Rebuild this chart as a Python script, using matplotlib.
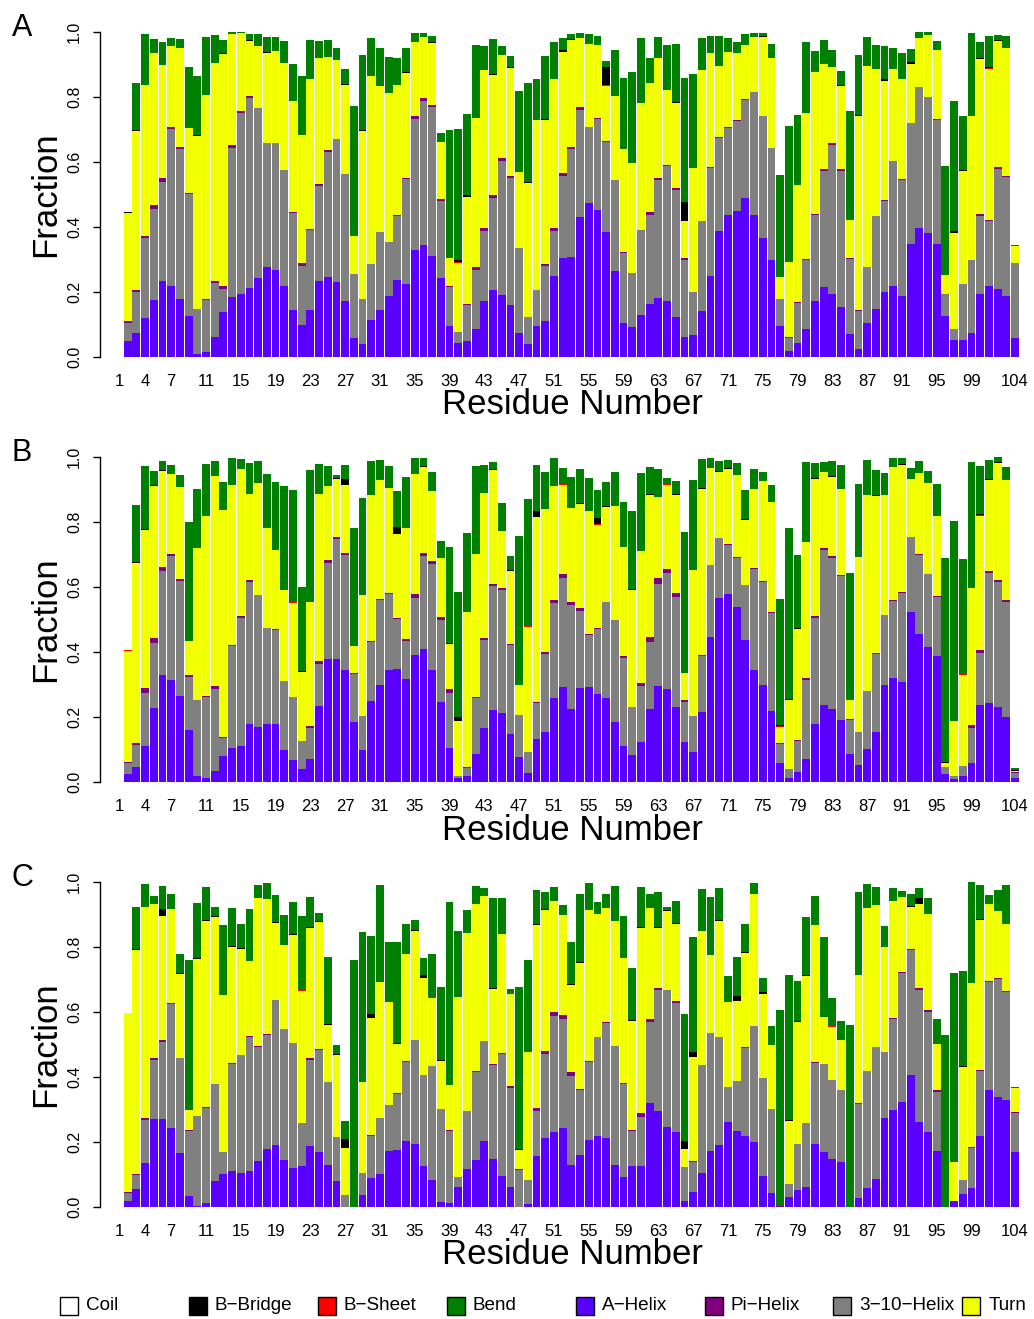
import numpy as np
import matplotlib
matplotlib.use("Agg")
import matplotlib.pyplot as plt
from matplotlib.patches import Rectangle

plt.rcParams["font.family"] = ["Liberation Sans", "DejaVu Sans"]

residues = np.arange(1, 105)
tick_residues = [1, 4, 7, 11, 15, 19, 23, 27, 31, 35, 39, 43, 47, 51, 55,
                 59, 63, 67, 71, 75, 79, 83, 87, 91, 95, 99, 104]

# ---------------- panel A ----------------
HELIX_A = [
    0, .05, .073, .119, .174, .235, .217, .177, .125, .008,
    .014, .063, .137, .186, .195, .211, .242, .278, .269, .22,
    .146, .097, .146, .235, .245, .232, .171, .06, .039, .113,
    .146, .189, .238, .226, .328, .346, .312, .242, .094, .042,
    .048, .085, .171, .205, .192, .159, .073, .039, .094, .11,
    .248, .306, .309, .432, .475, .453, .386, .266, .106, .091,
    .128, .162, .183, .171, .122, .063, .067, .143, .248, .389,
    .438, .45, .49, .438, .367, .297, .094, .02, .042, .085,
    .171, .214, .195, .153, .07, .024, .106, .149, .199, .217,
    .189, .349, .398, .383, .349, .125, .051, .051, .073, .195,
    .217, .208, .189, .057]
TEN_A = [
    0, .055, .126, .246, .282, .304, .485, .464, .378, .141,
    .16, .166, .071, .458, .556, .586, .525, .381, .39, .356,
    .298, .184, .246, .292, .387, .439, .393, .194, .138, .172,
    .24, .166, .197, .323, .405, .442, .458, .239, .12, .034,
    .113, .184, .218, .285, .412, .393, .261, .083, .111, .171,
    .141, .252, .332, .328, .233, .28, .276, .28, .215, .166,
    .264, .276, .363, .418, .393, .237, .132, .274, .334, .285,
    .267, .276, .301, .378, .375, .347, .083, .04, .123, .212,
    .267, .359, .458, .42, .233, .119, .172, .286, .282, .387,
    .357, .372, .433, .417, .381, .07, .034, .175, .224, .24,
    .2, .371, .366, .231]
PI_A = [
    0, .007, .006, .007, .013, .013, .006, .006, .003, 0,
    .003, .006, .009, .009, .006, .006, 0, 0, 0, 0,
    .003, .007, .003, .006, .006, 0, 0, 0, .003, 0,
    0, 0, .003, .003, .009, .009, .006, .006, .006, 0,
    .003, .009, .009, .009, .009, .006, 0, 0, 0, .006,
    .009, .009, .006, .01, 0, .003, .003, 0, .003, .003,
    0, .009, .006, .003, .006, .006, 0, 0, .003, .003,
    .003, .003, .003, 0, 0, 0, .003, .003, .003, .006,
    .003, .006, .006, .006, .003, .003, 0, 0, .003, 0,
    .003, 0, 0, 0, .003, 0, 0, 0, .003, .006,
    .006, .006, .003, 0]
TURN_A = [
    0, .33, .491, .465, .466, .347, .249, .304, .199, .532,
    .63, .67, .715, .341, .24, .169, .19, .276, .283, .329,
    .341, .396, .461, .387, .285, .243, .273, .117, .516, .58,
    .448, .458, .399, .322, .227, .188, .19, .175, .086, .212,
    .329, .458, .485, .369, .316, .331, .236, .414, .525, .443,
    .458, .372, .328, .211, .255, .224, .169, .257, .317, .338,
    .39, .396, .368, .23, .261, .114, .383, .466, .351, .219,
    .232, .207, .166, .169, .243, .276, .065, .228, .362, .448,
    .436, .323, .234, .255, .117, .596, .618, .451, .366, .282,
    .307, .181, .151, .191, .212, .056, .298, .347, .442, .476,
    .463, .387, .393, .055]
BEND_A = [
    0, 0, .144, .157, .043, .07, .025, .027, .188, .181,
    .178, .086, .04, .006, .003, .019, .037, .046, .043, .067,
    .114, .181, .119, .052, .052, .037, .046, .402, .23, .117,
    .117, .11, .083, .075, .028, .012, .019, .025, .393, .405,
    .249, .224, .074, .108, .028, .033, .249, .304, .126, .193,
    .113, .037, .015, .016, .031, .028, .018, .141, .218, .279,
    .2, .077, .065, .138, .178, .381, .289, .099, .052, .092,
    .042, .033, .034, .012, .009, .043, .316, .42, .215, .218,
    .065, .073, .052, .043, .334, .184, .089, .074, .101, .065,
    .08, .04, .018, .009, .027, .338, .399, .166, .255, .049,
    .096, .016, .037, .003]
SHEET_A = {38: .003, 40: .003, 57: .003, 101: .003}
BRIDGE_A = {2: .003, 3: .003, 10: .003, 13: .003, 16: .003, 18: .004, 27: .003,
            29: .003, 34: .003, 37: .003, 40: .006, 41: .006, 44: .003, 46: .004,
            48: .003, 50: .003, 52: .006, 53: .004, 57: .056, 65: .003, 66: .058,
            75: .003, 84: .003, 86: .003, 89: .006, 92: .006, 97: .006, 98: .003,
            100: .003, 101: .003, 102: .003}

# ---------------- panel B ----------------
HELIX_B = [
    0, .024, .045, .11, .229, .328, .315, .266, .159, .02,
    .011, .033, .079, .106, .11, .177, .168, .177, .177, .097,
    .067, .039, .07, .235, .377, .377, .346, .186, .097, .248,
    .3, .346, .349, .318, .392, .41, .346, .245, .106, .011,
    .02, .085, .165, .223, .211, .149, .076, .027, .131, .153,
    .257, .291, .226, .288, .291, .272, .257, .186, .11, .082,
    .122, .226, .294, .285, .232, .122, .091, .214, .447, .567,
    .579, .539, .438, .346, .297, .217, .057, .011, .03, .07,
    .18, .238, .226, .192, .085, .051, .103, .153, .297, .321,
    .309, .524, .456, .414, .389, .024, .008, .017, .06, .238,
    .242, .232, .199, .011]
TEN_B = [
    0, .033, .068, .165, .2, .322, .381, .353, .165, .231,
    .252, .252, .055, .311, .396, .439, .408, .298, .292, .215,
    .196, .086, .095, .129, .298, .371, .353, .145, .105, .184,
    .261, .233, .154, .117, .175, .286, .325, .255, .169, .006,
    .022, .175, .273, .381, .381, .274, .129, .064, .111, .242,
    .295, .337, .32, .239, .162, .2, .298, .314, .273, .15,
    .172, .206, .316, .359, .338, .123, .111, .175, .221, .184,
    .151, .151, .169, .31, .319, .304, .059, .028, .095, .245,
    .326, .476, .464, .443, .107, .102, .178, .242, .218, .237,
    .273, .23, .243, .227, .181, .021, .009, .031, .105, .16,
    .402, .384, .356, .016]
PI_B = [
    0, .006, .006, .013, .015, .012, .006, .006, .004, 0,
    .003, .009, .006, .006, .006, .006, 0, 0, .003, 0,
    0, 0, .006, .007, .009, .006, .006, .003, 0, .003,
    .003, .003, .003, .006, .012, .009, .01, .009, .01, .003,
    .003, .003, .006, .006, .006, .003, 0, 0, .003, .006,
    .009, .013, .009, .009, .003, .003, 0, 0, .006, 0,
    .012, .015, .018, .012, .012, .006, 0, .003, 0, 0,
    .003, .003, 0, .003, .003, .003, .003, 0, .003, .006,
    .006, .007, .006, .003, .003, 0, 0, .003, 0, .003,
    .003, 0, .003, 0, .003, 0, 0, 0, .009, .009,
    .006, .006, .006, .003]
TURN_B = [
    0, .341, .556, .488, .467, .295, .246, .283, .107, .47,
    .553, .648, .697, .491, .451, .264, .344, .307, .242, .28,
    .289, .212, .384, .515, .227, .178, .209, .086, .374, .448,
    .365, .323, .258, .341, .369, .264, .215, .181, .141, .169,
    .479, .439, .445, .35, .175, .224, .092, .387, .571, .439,
    .35, .273, .288, .32, .378, .316, .291, .35, .335, .36,
    .405, .436, .249, .258, .301, .083, .451, .51, .298, .203,
    .23, .252, .2, .243, .307, .338, .049, .212, .344, .418,
    .42, .233, .243, .264, .056, .54, .602, .482, .368, .408,
    .39, .178, .249, .279, .246, .015, .172, .28, .424, .412,
    .279, .36, .368, .003]
BEND_B = [
    0, 0, .175, .193, .043, .028, .028, .037, .365, .181,
    .16, .046, .086, .083, .031, .096, .068, .166, .209, .319,
    .344, .258, .405, .093, .062, .01, .043, .359, .298, .105,
    .062, .067, .111, .157, .049, .025, .058, .049, .295, .386,
    .243, .267, .086, .022, .086, .043, .46, .39, .141, .114,
    .086, .049, .096, .104, .102, .086, .073, .104, .138, .239,
    .24, .083, .086, .019, .04, .436, .273, .089, .031, .031,
    .025, .037, .089, .062, .028, .052, .39, .528, .224, .246,
    .046, .031, .046, .074, .393, .224, .108, .077, .068, .028,
    .018, .034, .037, .036, .098, .627, .614, .356, .387, .147,
    .059, .015, .04, .006]
SHEET_B = {2: .003, 21: .003, 22: .003, 28: .003, 38: .003, 42: .003, 48: .003,
           52: .003, 56: .003, 64: .003, 67: .003, 77: .003, 98: .003, 100: .003}
BRIDGE_B = {3: .003, 4: .003, 5: .003, 6: .003, 22: .003, 26: .003, 27: .018,
            33: .021, 36: .003, 39: .003, 40: .01, 44: .003, 46: .003, 49: .018,
            54: .003, 56: .019, 57: .004, 60: .003, 62: .003, 65: .003, 68: .003,
            70: .003, 71: .003, 73: .003, 77: .003, 78: .003, 79: .003, 81: .004,
            83: .003, 88: .003, 91: .004, 96: .003, 100: .003, 101: .003,
            102: .003, 104: .003}

# ---------------- panel C ----------------
HELIX_C = [
    0, .017, .054, .134, .272, .272, .242, .165, .033, .002,
    .011, .079, .103, .11, .106, .11, .143, .18, .192, .146,
    .119, .125, .189, .168, .128, .079, 0, 0, .036, .088,
    .103, .171, .174, .202, .195, .125, .082, .014, .011, .063,
    .116, .146, .202, .149, .094, .063, 0, .008, .156, .211,
    .232, .242, .128, .159, .205, .217, .211, .128, .091, .125,
    .125, .321, .294, .245, .232, .017, .045, .106, .171, .192,
    .263, .235, .22, .199, .094, .042, 0, .03, .051, .063,
    .195, .168, .149, .137, 0, .027, .057, .085, .275, .297,
    .324, .407, .263, .232, .171, 0, .017, .039, .057, .217,
    .361, .34, .328, .168]
TEN_C = [
    0, .025, .043, .135, .181, .237, .383, .295, .202, .279,
    .295, .301, .065, .331, .363, .414, .35, .35, .446, .403,
    .387, .132, .264, .316, .258, .135, .036, 0, .07, .132,
    .172, .144, .175, .245, .32, .282, .353, .289, .224, .028,
    .178, .268, .31, .289, .378, .304, .113, .074, .138, .261,
    .357, .337, .276, .202, .242, .307, .356, .368, .289, .11,
    .153, .249, .374, .423, .396, .105, .095, .332, .365, .332,
    .107, .154, .27, .359, .304, .261, 0, .04, .144, .197,
    .249, .273, .243, .224, 0, .291, .363, .408, .203, .282,
    .397, .384, .405, .369, .184, 0, .003, .043, .126, .2,
    .332, .362, .334, .12]
PI_C = [
    0, .003, .006, .006, .007, .006, .003, 0, .003, 0,
    .003, 0, 0, .003, 0, .003, .003, .003, 0, 0,
    0, 0, .004, .003, 0, 0, 0, 0, 0, .003,
    0, 0, .003, .003, 0, 0, 0, 0, .003, 0,
    0, .003, 0, .003, .003, .004, .003, 0, .012, .009,
    .012, .013, .01, .003, .003, 0, .003, 0, .003, .003,
    .01, .009, .007, 0, .007, 0, .003, 0, 0, 0,
    0, 0, .003, 0, 0, 0, .003, 0, 0, 0,
    .003, 0, 0, 0, 0, .003, 0, 0, 0, .003,
    .003, .003, .007, .006, .006, 0, 0, 0, .003, .006,
    .003, .003, .003, .003]
TURN_C = [
    0, .553, .688, .648, .472, .381, .289, .258, .059, .483,
    .571, .513, .485, .356, .325, .23, .455, .415, .236, .258,
    .331, .408, .402, .39, .175, .255, .147, 0, .28, .359,
    .418, .317, .151, .329, .335, .298, .209, .147, .136, .556,
    .549, .515, .445, .23, .365, .285, .058, .396, .562, .433,
    .341, .307, .27, .387, .464, .378, .35, .384, .384, .335,
    .571, .341, .184, .243, .236, .055, .32, .412, .24, .356,
    .262, .246, .289, .405, .258, .197, 0, .196, .375, .451,
    .421, .144, .163, .154, 0, .393, .5, .436, .322, .36,
    .23, .129, .257, .295, .142, 0, .117, .35, .504, .46,
    .236, .206, .206, .076]
BEND_C = [
    0, 0, .129, .071, .025, .071, .046, .058, .46, .169,
    .102, .027, .215, .117, .074, .16, .04, .049, .083, .092,
    .099, .228, .092, .025, .206, .028, .058, .76, .46, .239,
    .298, .184, .31, .092, .03, .053, .132, .225, .565, .203,
    .071, .056, .025, .276, .111, .015, .501, .282, .104, .052,
    .043, .03, .129, .209, .083, .037, .043, .108, .129, .16,
    .123, .043, .107, .009, .068, .393, .353, .129, .178, .099,
    .079, .12, .086, .034, .043, .058, .604, .445, .123, .179,
    .089, .246, .086, .058, .561, .255, .074, .056, .065, .04,
    .018, .037, .031, .049, .076, .53, .584, .292, .31, .105,
    .028, .064, .119, .003]
SHEET_C = {9: .003, 22: .003, 37: .003, 83: .003}
BRIDGE_C = {3: .003, 6: .021, 8: .003, 10: .003, 11: .003, 12: .003, 14: .003,
            15: .003, 19: .003, 21: .003, 23: .003, 24: .003, 25: .003, 26: .003,
            27: .025, 30: .013, 33: .003, 35: .003, 36: .009, 38: .003, 44: .004,
            47: .003, 49: .003, 50: .003, 53: .003, 54: .003, 60: .003, 61: .003,
            63: .003, 64: .003, 65: .003, 66: .025, 67: .015, 70: .003, 72: .015,
            73: .003, 75: .006, 78: .003, 79: .003, 80: .003, 92: .003, 93: .019,
            98: .003, 100: .003}

COLORS = {
    "Coil": "white",
    "B\u2212Bridge": "black",
    "B\u2212Sheet": "#ff0000",
    "Bend": "#008000",
    "A\u2212Helix": "#5a00ff",
    "Pi\u2212Helix": "#800080",
    "3\u221210\u2212Helix": "#808080",
    "Turn": "#f2ff00",
}


def sparse(d):
    return np.array([d.get(r, 0.0) for r in residues])


panels = [
    ("A", HELIX_A, TEN_A, PI_A, TURN_A, SHEET_A, BRIDGE_A, BEND_A),
    ("B", HELIX_B, TEN_B, PI_B, TURN_B, SHEET_B, BRIDGE_B, BEND_B),
    ("C", HELIX_C, TEN_C, PI_C, TURN_C, SHEET_C, BRIDGE_C, BEND_C),
]

W, H = 1034, 1319
fig = plt.figure(figsize=(W / 100, H / 100), dpi=100)

# pixel row of y=0 for each panel
zero_rows = [357, 782, 1207]
step = 8.7

for (letter, helix, ten, pi, turn, sheet, bridge, bend), y0 in zip(panels, zero_rows):
    ax = fig.add_axes([100 / W, 1 - y0 / H, 925 / W, 325 / H])
    layers = [
        (np.array(helix), COLORS["A\u2212Helix"]),
        (np.array(ten), COLORS["3\u221210\u2212Helix"]),
        (np.array(pi), COLORS["Pi\u2212Helix"]),
        (np.array(turn), COLORS["Turn"]),
        (sparse(sheet), COLORS["B\u2212Sheet"]),
        (sparse(bridge), COLORS["B\u2212Bridge"]),
        (np.array(bend), COLORS["Bend"]),
    ]
    bottom = np.zeros(len(residues))
    for vals, col in layers:
        ax.bar(residues, vals, bottom=bottom, width=0.9, color=col, linewidth=0)
        bottom = bottom + vals

    ax.set_xlim(1 - 19 / step, 104 + 10 / step)
    ax.set_ylim(0, 1)
    for s in ["top", "right", "bottom"]:
        ax.spines[s].set_visible(False)
    ax.spines["left"].set_bounds(0, 1)
    ax.spines["left"].set_linewidth(1)

    ax.set_yticks([0, 0.2, 0.4, 0.6, 0.8, 1.0])
    ax.set_yticklabels(["0.0", "0.2", "0.4", "0.6", "0.8", "1.0"])
    ax.tick_params(axis="y", length=5, width=1, labelsize=11.5, pad=8,
                   labelrotation=90)
    for lab in ax.get_yticklabels():
        lab.set_va("center")

    ax.set_xticks(tick_residues)
    ax.set_xticklabels([str(t) for t in tick_residues])
    ax.tick_params(axis="x", length=0, labelsize=12, pad=12)

    ax.text((572 - 100) / 925, (357 - 405) / 325, "Residue Number",
            transform=ax.transAxes, ha="center", va="center", fontsize=25)
    ax.text((46 - 100) / 925, 0.5, "Fraction", transform=ax.transAxes,
            ha="center", va="center", rotation=90, fontsize=25)

    fig.text(22 / W, 1 - (y0 - 329) / H, letter, ha="center", va="center",
             fontsize=22)

# legend row
legend_y = 1306
for i, (name, col) in enumerate(COLORS.items()):
    x0 = 60 + i * 128.9
    fig.add_artist(Rectangle((x0 / W, 1 - (legend_y + 9) / H), 18 / W, 18 / H,
                             transform=fig.transFigure, facecolor=col,
                             edgecolor="black", linewidth=1))
    fig.text((x0 + 26) / W, 1 - legend_y / H, name, ha="left", va="center",
             fontsize=13.6)

fig.savefig("out.png", dpi=100)
